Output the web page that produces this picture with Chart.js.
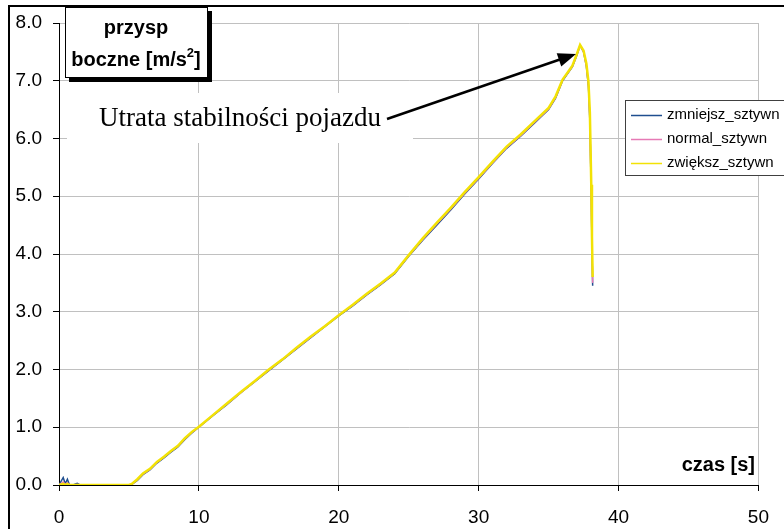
<!DOCTYPE html>
<html>
<head>
<meta charset="utf-8">
<script src="https://cdn.jsdelivr.net/npm/chart.js@4/dist/chart.umd.min.js"></script>
<style>
  html, body { margin: 0; padding: 0; background: #fff; }
  canvas { display: block; }
</style>
</head>
<body>
<canvas id="przyspieszenie" width="784" height="529"></canvas>
<script>
// czas [s]
const timeS = [0, 0.3, 0.45, 0.6, 0.75, 1.0, 1.3, 1.5, 2, 3,
  4, 5, 5.2, 5.6, 6, 6.5, 7, 7.5, 8, 8.5,
  9, 9.5, 10, 11, 12, 13, 14, 15, 16, 17,
  18, 19, 20, 21, 22, 23, 24, 25, 26, 27,
  28, 29, 30, 31, 32, 33, 34, 35, 35.5, 36,
  36.5, 36.7, 37, 37.25, 37.5, 37.7, 37.85, 37.95, 38.05, 38.1,
  38.15];

// przysp. boczne [m/s2]
const zmniejszSztywn = [0, 0.13, 0.02, 0.1, 0, 0, 0.03, 0, 0, 0,
  0, 0, 0.01, 0.08, 0.18, 0.26, 0.38, 0.47, 0.57, 0.66,
  0.79, 0.9, 1.0, 1.2, 1.39, 1.6, 1.79, 1.98, 2.17, 2.36,
  2.55, 2.74, 2.93, 3.1, 3.29, 3.47, 3.66, 3.96, 4.24, 4.5,
  4.76, 5.04, 5.3, 5.57, 5.83, 6.04, 6.27, 6.5, 6.7, 7.0,
  7.17, 7.24, 7.43, 7.61, 7.5, 7.25, 6.9, 6.3, 5.0, 4.1,
  3.45];
const normalSztywn = [0, 0.05, 0.01, 0.04, 0, 0, 0.01, 0, 0, 0,
  0, 0, 0.01, 0.09, 0.19, 0.27, 0.39, 0.48, 0.58, 0.67,
  0.8, 0.91, 1.0, 1.21, 1.4, 1.6, 1.8, 1.99, 2.18, 2.37,
  2.56, 2.75, 2.94, 3.11, 3.3, 3.48, 3.67, 3.97, 4.25, 4.52,
  4.78, 5.05, 5.31, 5.58, 5.84, 6.05, 6.28, 6.51, 6.71, 7.01,
  7.18, 7.25, 7.44, 7.61, 7.5, 7.26, 6.92, 6.35, 5.05, 4.15,
  3.5];
const zwiekszSztywn = [0, 0.02, 0, 0.02, 0, 0, 0, 0, 0, 0,
  0, 0, 0.02, 0.1, 0.2, 0.28, 0.4, 0.49, 0.59, 0.68,
  0.81, 0.92, 1.01, 1.21, 1.41, 1.61, 1.8, 2.0, 2.18, 2.38,
  2.57, 2.75, 2.94, 3.12, 3.31, 3.49, 3.68, 3.98, 4.27, 4.54,
  4.8, 5.07, 5.33, 5.6, 5.86, 6.07, 6.3, 6.53, 6.73, 7.02,
  7.19, 7.26, 7.45, 7.62, 7.52, 7.3, 6.98, 6.45, 5.2, 4.3,
  3.6];

const seriesNames = ['zmniejsz_sztywn', 'normal_sztywn', 'zwiększ_sztywn'];
const seriesColors = ['#1f4e8f', '#e67ab5', '#f2e205'];
const yTickLabels = ['0.0', '1.0', '2.0', '3.0', '4.0', '5.0', '6.0', '7.0', '8.0'];
const xTickLabels = ['0', '10', '20', '30', '40', '50'];

const yTitle = ['przysp', 'boczne [m/s', '2', ']'];
const xTitle = 'czas [s]';
const note = 'Utrata stabilności pojazdu';

const SANS = "'Liberation Sans', Arial, sans-serif";
const SERIF = "'Liberation Serif', 'Times New Roman', serif";

function pts(ys) {
  return timeS.map((t, i) => ({ x: t, y: ys[i] }));
}

const overlay = {
  id: 'overlay',
  afterDraw(chart) {
    const ctx = chart.ctx;
    ctx.save();

    // outer frame
    ctx.strokeStyle = '#000';
    ctx.lineWidth = 2;
    ctx.strokeRect(9, 6, 800, 600);

    // axis title box (top-left)
    ctx.fillStyle = '#000';
    ctx.fillRect(69, 11, 143, 71);
    ctx.fillStyle = '#fff';
    ctx.fillRect(65, 7, 143, 71);
    ctx.lineWidth = 1;
    ctx.strokeRect(65.5, 7.5, 142, 70);
    ctx.fillStyle = '#000';
    ctx.textBaseline = 'middle';
    ctx.textAlign = 'center';
    ctx.font = 'bold 20px ' + SANS;
    ctx.fillText(yTitle[0], 136, 28);
    const w1 = ctx.measureText(yTitle[1]).width;
    const w3 = ctx.measureText(yTitle[3]).width;
    ctx.font = 'bold 13px ' + SANS;
    const w2 = ctx.measureText(yTitle[2]).width;
    let sx = 136 - (w1 + w2 + w3) / 2;
    ctx.textAlign = 'left';
    ctx.font = 'bold 20px ' + SANS;
    ctx.fillText(yTitle[1], sx, 60);
    ctx.font = 'bold 13px ' + SANS;
    ctx.fillText(yTitle[2], sx + w1, 53);
    ctx.font = 'bold 20px ' + SANS;
    ctx.fillText(yTitle[3], sx + w1 + w2, 60);

    // annotation with white backing
    ctx.fillStyle = '#fff';
    ctx.fillRect(67, 93, 346, 50);
    ctx.fillStyle = '#000';
    ctx.textAlign = 'center';
    ctx.font = '27px ' + SERIF;
    ctx.fillText(note, 240, 119);

    // arrow
    const ax0 = 387, ay0 = 119, ax1 = 576, ay1 = 54;
    const ang = Math.atan2(ay1 - ay0, ax1 - ax0);
    ctx.strokeStyle = '#000';
    ctx.lineWidth = 2.5;
    ctx.beginPath();
    ctx.moveTo(ax0, ay0);
    ctx.lineTo(ax1 - 14 * Math.cos(ang), ay1 - 14 * Math.sin(ang));
    ctx.stroke();
    ctx.beginPath();
    ctx.moveTo(ax1, ay1);
    ctx.lineTo(ax1 - 18 * Math.cos(ang) + 7 * Math.sin(ang), ay1 - 18 * Math.sin(ang) - 7 * Math.cos(ang));
    ctx.lineTo(ax1 - 18 * Math.cos(ang) - 7 * Math.sin(ang), ay1 - 18 * Math.sin(ang) + 7 * Math.cos(ang));
    ctx.closePath();
    ctx.fill();

    // legend
    ctx.fillStyle = '#fff';
    ctx.fillRect(625, 100, 170, 76);
    ctx.strokeStyle = '#404040';
    ctx.lineWidth = 1;
    ctx.strokeRect(625.5, 100.5, 170, 75);
    ctx.font = '15px ' + SANS;
    ctx.textAlign = 'left';
    chart.data.datasets.forEach((ds, i) => {
      const y = 115 + i * 24;
      ctx.strokeStyle = ds.borderColor;
      ctx.lineWidth = 1.5;
      ctx.beginPath();
      ctx.moveTo(631, y + 0.5);
      ctx.lineTo(662, y + 0.5);
      ctx.stroke();
      ctx.fillStyle = '#000';
      ctx.fillText(ds.label, 667, y);
    });

    // x axis title
    ctx.font = 'bold 20px ' + SANS;
    ctx.textAlign = 'right';
    ctx.fillText(xTitle, 755, 465);

    ctx.restore();
  }
};

new Chart(document.getElementById('przyspieszenie'), {
  type: 'line',
  data: {
    datasets: [
      { label: seriesNames[0], data: pts(zmniejszSztywn), borderColor: seriesColors[0], borderWidth: 1.5, order: 3 },
      { label: seriesNames[1], data: pts(normalSztywn), borderColor: seriesColors[1], borderWidth: 1.5, order: 2 },
      { label: seriesNames[2], data: pts(zwiekszSztywn), borderColor: seriesColors[2], borderWidth: 2.5, order: 1 }
    ]
  },
  options: {
    responsive: false,
    devicePixelRatio: 1,
    animation: false,
    events: [],
    elements: { point: { radius: 0 }, line: { tension: 0 } },
    layout: { padding: { left: 0, top: 23, right: 11, bottom: 0 } },
    plugins: { legend: { display: false }, tooltip: { enabled: false } },
    scales: {
      x: {
        type: 'linear', min: 0, max: 50,
        afterFit: s => { s.height = 44; },
        ticks: {
          stepSize: 10, color: '#000', padding: 15,
          font: { family: SANS, size: 19 },
          callback: (v, i) => xTickLabels[i]
        },
        grid: { color: '#c0c0c0', tickColor: '#000', tickLength: 6 },
        border: { color: '#000', width: 1 }
      },
      y: {
        min: 0, max: 8,
        afterFit: s => { s.width = 59; },
        ticks: {
          stepSize: 1, color: '#000', padding: 11,
          font: { family: SANS, size: 19 },
          callback: (v, i) => yTickLabels[i]
        },
        grid: { color: '#c0c0c0', tickColor: '#000', tickLength: 6 },
        border: { color: '#000', width: 1 }
      }
    }
  },
  plugins: [overlay]
});
</script>
</body>
</html>
